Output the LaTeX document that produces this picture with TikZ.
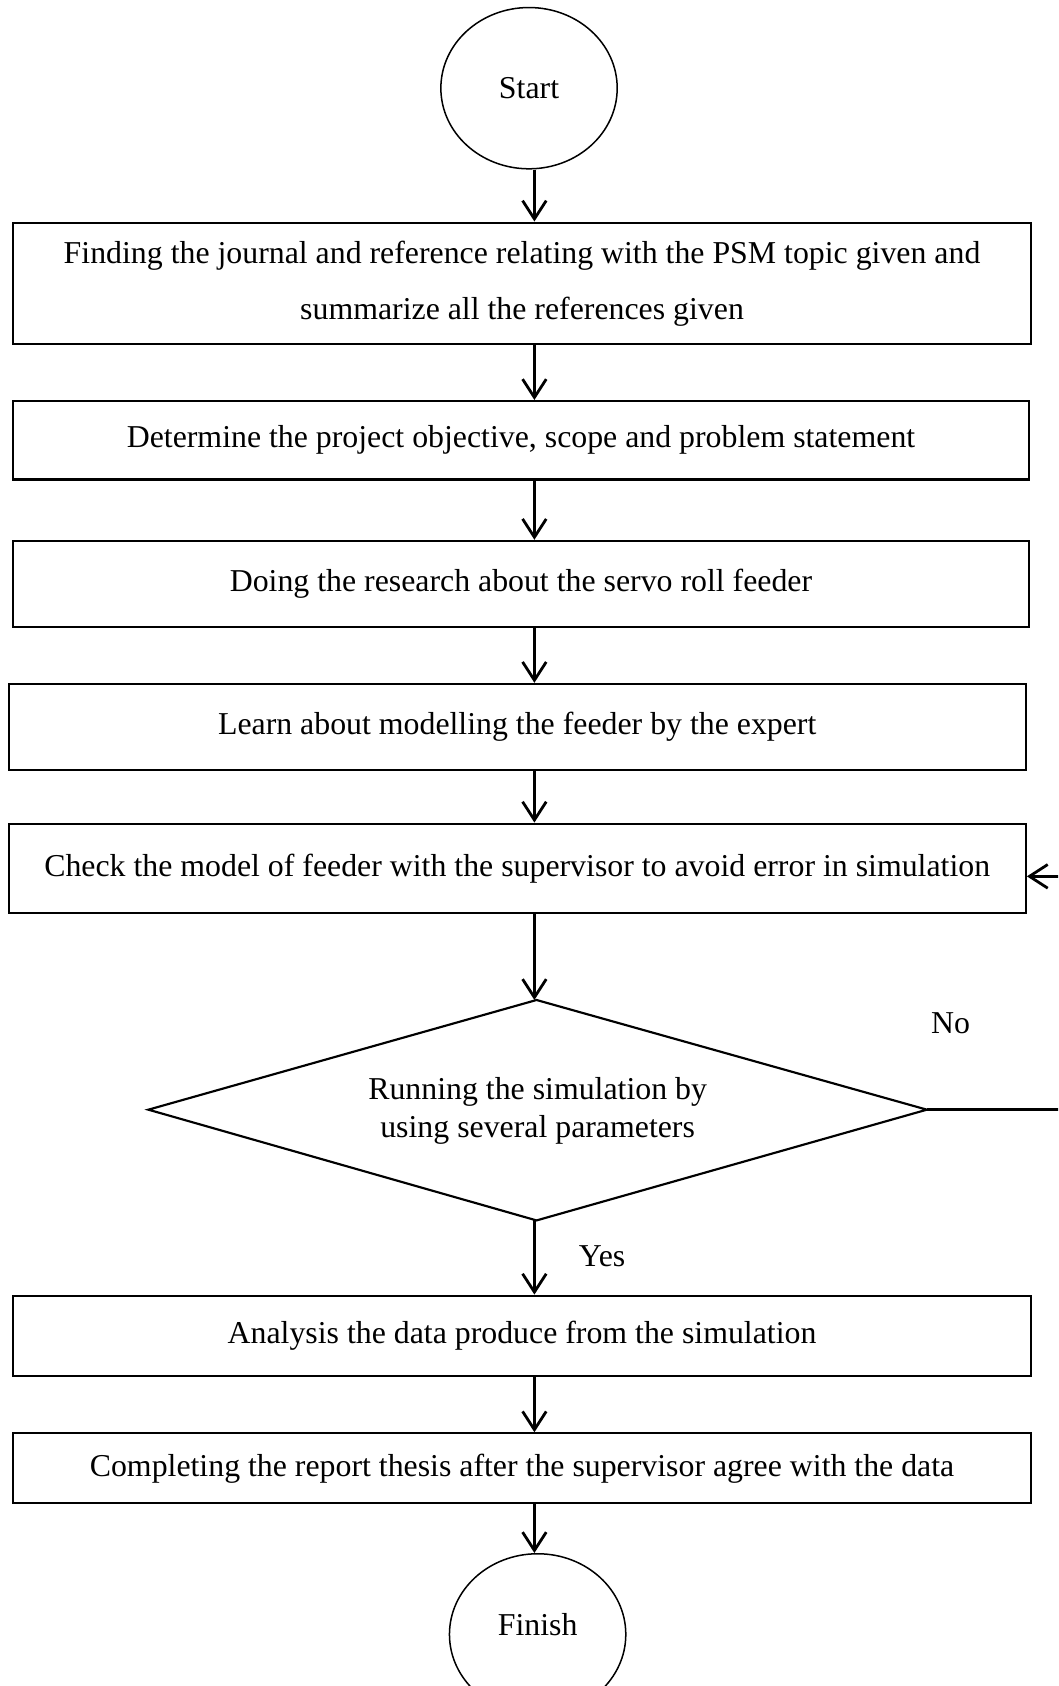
\documentclass[tikz,border=0pt]{standalone}
\usepackage{fontspec}
\setmainfont{Liberation Serif}
\usetikzlibrary{arrows.meta,shapes.geometric}
\begin{document}
\begin{tikzpicture}[x=1pt,y=-1pt,
  every node/.style={font=\fontsize{29.6}{36}\selectfont},
  procbox/.style={draw,line width=2pt,rectangle,inner sep=0pt,align=center},
  term/.style={draw,line width=1.4pt,ellipse,inner sep=0pt,minimum width=164pt,minimum height=150pt},
  arr/.style={line width=2.6pt,-{Straight Barb[length=17pt,width=22pt,line width=2.6pt]}},
  conn/.style={line width=2.4pt}]
\path[use as bounding box,clip] (0,0) rectangle (984,1568);
\coordinate (ax) at (497,0);
\node[term] (start) at (492,82) {Start};
\node[procbox,minimum width=947pt,minimum height=113pt,font=\fontsize{29.6}{52}\selectfont] (b1) at (485.5,263.5)
  {Finding the journal and reference relating with the PSM topic given and\\summarize all the references given};
\node[procbox,minimum width=945pt,minimum height=73pt] (b2) at (484.5,409.5) {Determine the project objective, scope and problem statement};
\node[procbox,minimum width=945pt,minimum height=80pt] (b3) at (484.5,543) {Doing the research about the servo roll feeder};
\node[procbox,minimum width=946pt,minimum height=80pt] (b4) at (481,676) {Learn about modelling the feeder by the expert};
\node[procbox,minimum width=946pt,minimum height=83pt] (b5) at (481,807.5) {Check the model of feeder with the supervisor to avoid error in simulation};
% decision diamond
\coordinate (dn) at (499,930);
\coordinate (dw) at (138,1032);
\coordinate (de) at (862,1032);
\coordinate (ds) at (499,1135);
\draw[line width=2pt,line join=miter] (dn) -- (de) -- (ds) -- (dw) -- cycle;
\node[align=center,inner sep=0pt] (dec) at (500,1033) {Running the simulation by\\using several parameters};
\node[procbox,minimum width=947pt,minimum height=75pt] (b6) at (485.5,1242.5) {Analysis the data produce from the simulation};
\node[procbox,minimum width=947pt,minimum height=65pt] (b7) at (485.5,1365.5) {Completing the report thesis after the supervisor agree with the data};
\node[term] (fin) at (500,1520) {};
\node (fintext) at (500,1511) {Finish};
\node (no) at (884,952) {No};
\node (yes) at (560,1168) {Yes};
\coordinate (r1) at (994,1032);
\coordinate (r2) at (994,815);
\draw[arr] (start.south -| ax) -- (b1.north -| ax);
\draw[arr] (b1.south -| ax) -- (b2.north -| ax);
\draw[arr] (b2.south -| ax) -- (b3.north -| ax);
\draw[arr] (b3.south -| ax) -- (b4.north -| ax);
\draw[arr] (b4.south -| ax) -- (b5.north -| ax);
\draw[arr] (b5.south -| ax) -- (dn -| ax);
\draw[arr] (ds -| ax) -- (b6.north -| ax);
\draw[arr] (b6.south -| ax) -- (b7.north -| ax);
\draw[arr] (b7.south -| ax) -- (fin.north -| ax);
\draw[conn] (de) -- (r1) -- (r2);
\draw[arr] (r2) -- (b5.east |- r2);
\end{tikzpicture}
\end{document}
